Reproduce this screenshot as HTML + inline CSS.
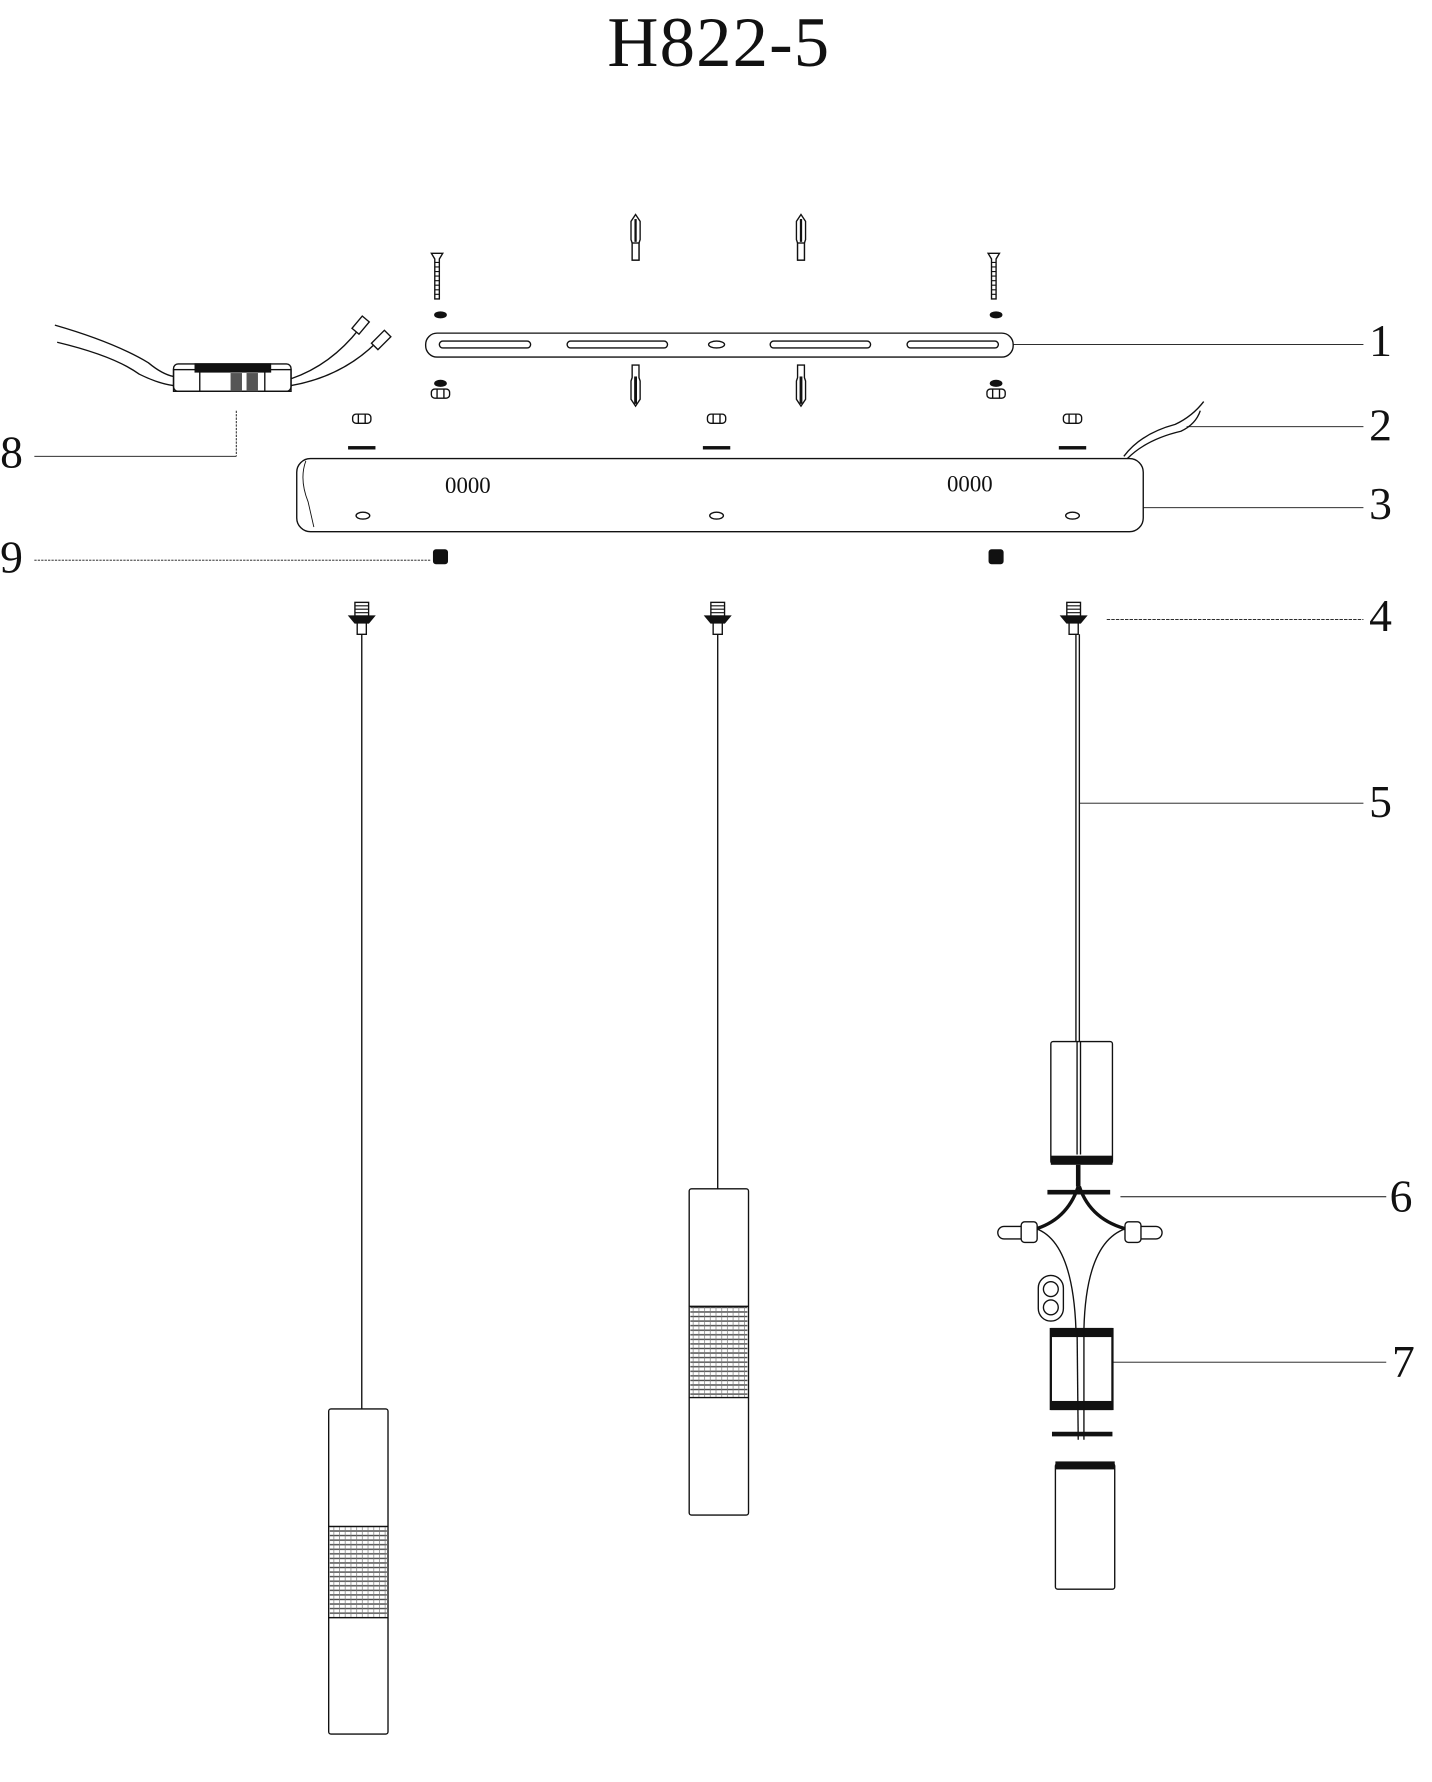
<!DOCTYPE html>
<html><head><meta charset="utf-8"><style>
html,body{margin:0;padding:0;background:#fff;width:1432px;height:1782px;overflow:hidden}
svg{display:block}
text{font-family:"Liberation Serif",serif;fill:#111}
</style></head><body>
<svg width="1432" height="1782" viewBox="0 0 1255 1562" xmlns="http://www.w3.org/2000/svg" fill="none" stroke="#111" stroke-width="1.2">
<defs>
<pattern id="mesh" width="5" height="4" patternUnits="userSpaceOnUse"><rect width="5" height="4" fill="#fff" stroke="none"/><line x1="0" y1="2" x2="5" y2="2" stroke="#444" stroke-width="1.2"/><line x1="2.5" y1="0" x2="2.5" y2="4" stroke="#777" stroke-width="0.6"/></pattern>
<g id="screw"><path d="M-5 0 L5 0 L2 5 L2 40 L-2 40 L-2 5 Z" fill="#fff"/><path d="M-2 8H2M-2 12H2M-2 16H2M-2 20H2M-2 24H2M-2 28H2M-2 32H2M-2 36H2" stroke-width="1"/></g>
<g id="anchor"><path d="M0 0 L4 6 L4 22 L3 25 L3 40 L-3 40 L-3 25 L-4 22 L-4 6 Z" fill="#fff"/><path d="M0 4V24" stroke-width="2"/><rect x="-3" y="25" width="6" height="15" fill="#fff"/></g>
<g id="anchordown"><path d="M0 36 L4 30 L4 14 L3 11 L3 0 L-3 0 L-3 11 L-4 14 L-4 30 Z" fill="#fff"/><path d="M0 10V34" stroke-width="2.5"/></g>
<g id="nut"><rect x="-8" y="-4" width="16" height="8" rx="3" fill="#fff"/><line x1="-3" y1="-4" x2="-3" y2="4"/><line x1="3" y1="-4" x2="3" y2="4"/></g>
<g id="socket"><rect x="-6" y="-13" width="12" height="12" fill="#fff"/><path d="M-6 -10H6M-6 -7H6M-6 -4H6" stroke-width="1"/><path d="M-11 -1 L11 -1 L6 5 L-6 5 Z" fill="#111"/><rect x="-4" y="5" width="8" height="10" fill="#fff"/></g>
</defs>

<text x="630" y="58" font-size="62" text-anchor="middle" stroke="none" letter-spacing="1">H822-5</text>

<!-- plate 1 -->
<rect x="373" y="292" width="515" height="21" rx="10" fill="#fff"/>
<rect x="385" y="299" width="80" height="6" rx="3"/>
<rect x="497" y="299" width="88" height="6" rx="3"/>
<ellipse cx="628" cy="302" rx="7" ry="3"/>
<rect x="675" y="299" width="88" height="6" rx="3"/>
<rect x="795" y="299" width="80" height="6" rx="3"/>
<use href="#screw" x="383" y="222"/>
<use href="#screw" x="871" y="222"/>
<use href="#anchor" x="557" y="188"/>
<use href="#anchor" x="702" y="188"/>
<use href="#anchordown" x="557" y="320"/>
<use href="#anchordown" x="702" y="320"/>
<ellipse cx="386" cy="276" rx="5" ry="2.5" fill="#111"/>
<ellipse cx="873" cy="276" rx="5" ry="2.5" fill="#111"/>
<ellipse cx="386" cy="336" rx="5" ry="2.5" fill="#111"/>
<use href="#nut" x="386" y="345"/>
<ellipse cx="873" cy="336" rx="5" ry="2.5" fill="#111"/>
<use href="#nut" x="873" y="345"/>
<line x1="888" y1="302" x2="1195" y2="302" stroke-width="0.8"/>
<text x="1200" y="312" font-size="40" stroke="none">1</text>

<!-- nuts + washers above canopy -->
<use href="#nut" x="317" y="367"/><rect x="305" y="391" width="24" height="3" fill="#111" stroke="none"/>
<use href="#nut" x="628" y="367"/><rect x="616" y="391" width="24" height="3" fill="#111" stroke="none"/>
<use href="#nut" x="940" y="367"/><rect x="928" y="391" width="24" height="3" fill="#111" stroke="none"/>

<!-- canopy 3 -->
<rect x="260" y="402" width="742" height="64" rx="12" fill="#fff"/>
<path d="M268 404 Q262 420 270 440 L275 462" stroke-width="0.8"/>
<text x="410" y="432" font-size="20" text-anchor="middle" stroke="none" font-family="Liberation Sans">0000</text>
<text x="850" y="431" font-size="20" text-anchor="middle" stroke="none" font-family="Liberation Sans">0000</text>
<ellipse cx="318" cy="452" rx="6" ry="3"/><ellipse cx="628" cy="452" rx="6" ry="3"/><ellipse cx="940" cy="452" rx="6" ry="3"/>
<line x1="1002" y1="445" x2="1195" y2="445" stroke-width="0.8"/>
<text x="1200" y="455" font-size="40" stroke="none">3</text>

<!-- wire 2 -->
<path d="M985 400 Q1000 380 1030 372 Q1045 365 1055 352"/>
<path d="M988 402 Q1005 385 1035 378 Q1048 372 1052 360"/>
<line x1="1040" y1="374" x2="1195" y2="374" stroke-width="0.8"/>
<text x="1200" y="386" font-size="40" stroke="none">2</text>

<!-- 9 caps -->
<rect x="380" y="482" width="12" height="12" rx="2" fill="#111"/>
<rect x="867" y="482" width="12" height="12" rx="2" fill="#111"/>
<line x1="30" y1="491" x2="378" y2="491" stroke-width="0.8" stroke-dasharray="2 1"/>
<text x="0" y="502" font-size="40" stroke="none">9</text>

<!-- 8 terminal block -->
<path d="M48 285 Q100 300 130 318 Q142 328 152 330"/>
<path d="M50 300 Q100 312 122 328 Q138 336 152 338"/>
<path d="M255 332 Q290 320 315 288"/>
<path d="M255 338 Q300 330 330 300"/>
<rect x="312" y="278" width="8" height="14" transform="rotate(40 316 285)" fill="#fff"/>
<rect x="330" y="290" width="8" height="16" transform="rotate(45 334 298)" fill="#fff"/>
<rect x="152" y="324" width="103" height="19" fill="#fff"/>
<rect x="171" y="319" width="66" height="7" fill="#111"/>
<rect x="152" y="319" width="103" height="24" rx="4"/>
<rect x="202" y="327" width="10" height="16" fill="#555" stroke="none"/>
<rect x="216" y="327" width="10" height="16" fill="#555" stroke="none"/>
<line x1="175" y1="326" x2="175" y2="343"/><line x1="232" y1="326" x2="232" y2="343"/>
<line x1="207" y1="360" x2="207" y2="400" stroke-width="0.8" stroke-dasharray="2 1"/>
<line x1="30" y1="400" x2="207" y2="400" stroke-width="0.8"/>
<text x="0" y="410" font-size="40" stroke="none">8</text>

<!-- sockets 4 -->
<use href="#socket" x="317" y="541"/>
<use href="#socket" x="629" y="541"/>
<use href="#socket" x="941" y="541"/>
<line x1="970" y1="543" x2="1195" y2="543" stroke-width="0.8" stroke-dasharray="3 1"/>
<text x="1200" y="553" font-size="40" stroke="none">4</text>

<!-- cords -->
<line x1="317" y1="556" x2="317" y2="1235"/>
<line x1="629" y1="556" x2="629" y2="1042"/>
<line x1="943" y1="556" x2="943" y2="1010"/>
<line x1="946" y1="556" x2="946" y2="1010"/>
<line x1="946" y1="704" x2="1195" y2="704" stroke-width="0.8"/>
<text x="1200" y="716" font-size="40" stroke="none">5</text>

<!-- left pendant -->
<rect x="288" y="1235" width="52" height="285" rx="2" fill="#fff"/>
<rect x="289" y="1338" width="50" height="80" fill="url(#mesh)" stroke="none"/>
<line x1="288" y1="1338" x2="340" y2="1338"/><line x1="288" y1="1418" x2="340" y2="1418"/>

<!-- middle pendant -->
<rect x="604" y="1042" width="52" height="286" rx="2" fill="#fff"/>
<rect x="605" y="1145" width="50" height="80" fill="url(#mesh)" stroke="none"/>
<line x1="604" y1="1145" x2="656" y2="1145"/><line x1="604" y1="1225" x2="656" y2="1225"/>

<!-- right exploded pendant -->
<rect x="921" y="913" width="54" height="107" rx="2" fill="#fff"/>
<line x1="944" y1="913" x2="944" y2="1012"/><line x1="947" y1="913" x2="947" y2="1012"/>
<rect x="921" y="1013" width="54" height="8" fill="#111" stroke="none"/>
<path d="M945 1021 L945 1040" stroke-width="4"/>
<line x1="918" y1="1045" x2="973" y2="1045" stroke-width="4"/>
<path d="M945 1040 Q935 1070 905 1078" stroke-width="3"/>
<path d="M946 1040 Q956 1070 990 1078" stroke-width="3"/>
<path d="M905 1076 Q940 1085 943 1165"/>
<path d="M990 1076 Q952 1085 950 1165"/>
<path d="M880 1075 H895 V1086 H880 A5.5 5.5 0 0 1 880 1075 Z" fill="#fff"/>
<rect x="895" y="1071" width="14" height="18" rx="3" fill="#fff"/>
<path d="M1013 1075 H998 V1086 H1013 A5.5 5.5 0 0 0 1013 1075 Z" fill="#fff"/>
<rect x="986" y="1071" width="14" height="18" rx="3" fill="#fff"/>
<rect x="910" y="1118" width="22" height="40" rx="11" fill="#fff"/>
<circle cx="921" cy="1130" r="6.5"/><circle cx="921" cy="1146" r="6.5"/>
<line x1="982" y1="1049" x2="1215" y2="1049" stroke-width="0.8"/>
<text x="1218" y="1062" font-size="40" stroke="none">6</text>
<rect x="921" y="1165" width="54" height="70" fill="#fff" stroke-width="2"/>
<rect x="921" y="1164" width="54" height="8" fill="#111" stroke="none"/>
<rect x="921" y="1228" width="54" height="8" fill="#111" stroke="none"/>
<line x1="944" y1="1165" x2="945" y2="1262"/><line x1="950" y1="1165" x2="950" y2="1262"/>
<line x1="922" y1="1257" x2="975" y2="1257" stroke-width="4"/>
<line x1="975" y1="1194" x2="1215" y2="1194" stroke-width="0.8"/>
<text x="1220" y="1207" font-size="40" stroke="none">7</text>
<rect x="925" y="1283" width="52" height="110" rx="2" fill="#fff"/>
<rect x="925" y="1281" width="52" height="7" fill="#111" stroke="none"/>
</svg>
</body></html>
